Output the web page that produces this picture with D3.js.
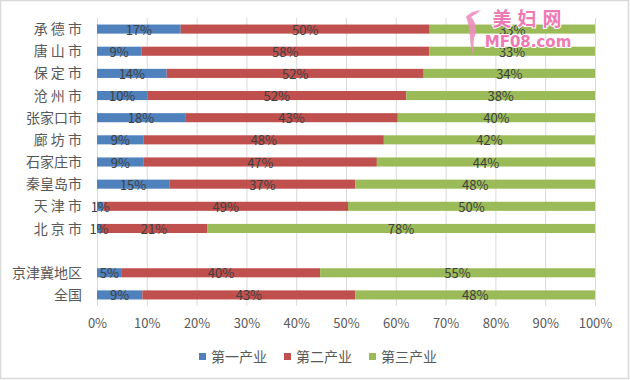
<!DOCTYPE html>
<html><head><meta charset="utf-8">
<script src="https://cdn.jsdelivr.net/npm/d3@7"></script>
<style>
html,body{margin:0;padding:0;background:#fff;}
svg{display:block;font-family:"Noto Sans CJK SC","Noto Sans",sans-serif;}
</style></head>
<body>
<svg id="c" width="630" height="380"></svg>
<script>
const categories = ["承 德 市","唐 山 市","保 定 市","沧 州 市","张家口市","廊 坊 市","石家庄市","秦皇岛市","天 津 市","北 京 市","","京津冀地区","全国"];
const primary   = [16.8, 8.9, 14.0, 10.1, 17.7, 9.4, 9.4, 14.5, 1.3, 0.8, null, 5.0, 9.1];
const secondary = [50.0, 57.8, 51.6, 52.0, 42.7, 48.2, 46.8, 37.4, 49.1, 21.3, null, 39.8, 42.8];
const tertiary  = [33.2, 33.3, 34.4, 37.9, 39.6, 42.4, 43.8, 48.1, 49.6, 77.9, null, 55.2, 48.1];
const seriesNames = ["第一产业","第二产业","第三产业"];
const colors = ["#4f81bd","#c0504d","#9bbb59"];
const ticks = [0,10,20,30,40,50,60,70,80,90,100];

const svg = d3.select("#c");
// chart border
svg.append("rect").attr("x",0.5).attr("y",0.5).attr("width",628).attr("height",378)
  .attr("fill","#fff").attr("stroke","#d9d9d9").attr("stroke-width",1.5);

const pL = 97, pR = 595, pT = 18, pB = 306;
const x = d3.scaleLinear().domain([0,100]).range([pL,pR]);
const y = d3.scaleBand().domain(categories).range([pT,pB]).paddingInner(0.59).paddingOuter(0.295);

// gridlines
svg.append("g").selectAll("line").data(ticks).join("line")
  .attr("x1",d=>x(d)+0.5).attr("x2",d=>x(d)+0.5).attr("y1",pT).attr("y2",pB)
  .attr("stroke","#d9d9d9").attr("stroke-width",1);

// x axis labels
const xAxis = d3.axisBottom(x).tickValues(ticks).tickFormat(d=>d+"%").tickSize(0).tickPadding(0);
const gx = svg.append("g").attr("transform",`translate(0,${pB+13})`).call(xAxis);
gx.select(".domain").remove();
gx.selectAll("text").attr("fill","#595959").attr("font-size","13px")
  .attr("font-family",'"Noto Sans CJK SC","Noto Sans",sans-serif');

// y axis labels
const yAxis = d3.axisLeft(y).tickSize(0).tickPadding(0);
const gy = svg.append("g").attr("transform",`translate(82,0)`).call(yAxis);
gy.select(".domain").remove();
gy.selectAll("text").attr("fill","#595959").attr("font-size","14px")
  .attr("font-family",'"Noto Sans CJK SC","Noto Sans",sans-serif').attr("dy","0.36em");

// stacked data
const rows = categories.map((c,i)=>({cat:c, s0:primary[i], s1:secondary[i], s2:tertiary[i]}))
  .filter(r=>r.s0!==null);
const stack = d3.stack().keys(["s0","s1","s2"]);
const layers = stack(rows);

const bh = y.bandwidth();
layers.forEach((layer,li)=>{
  const g = svg.append("g");
  g.selectAll("rect").data(layer).join("rect")
    .attr("x",d=>x(d[0])).attr("width",d=>x(d[1])-x(d[0]))
    .attr("y",d=>y(d.data.cat)).attr("height",bh)
    .attr("fill",colors[li]);
});
layers.forEach((layer,li)=>{
  const g = svg.append("g");
  g.selectAll("text").data(layer).join("text")
    .attr("x",d=>(x(d[0])+x(d[1]))/2)
    .attr("y",d=>y(d.data.cat)+bh/2+1)
    .attr("dy","0.35em")
    .attr("text-anchor","middle").attr("font-size","13px").attr("fill","#404040")
    .text(d=>Math.round(d[1]-d[0])+"%");
});

// legend
const legX = [199, 284, 369];
const leg = svg.append("g");
seriesNames.forEach((n,i)=>{
  leg.append("rect").attr("x",legX[i]).attr("y",353).attr("width",7).attr("height",7).attr("fill",colors[i]);
  leg.append("text").attr("x",legX[i]+12).attr("y",356.5).attr("dy","0.36em")
    .attr("font-size","14px").attr("fill","#595959").text(n);
});

// watermark
const wm = svg.append("g");
wm.append("path").attr("d","M466,17 C470,12 476,11 481,10 C478,13 474,15 471,17 C476,22 478,30 474,38 C473,44 474,50 473,55 C471,48 470,42 470,36 C469,30 469,24 466,17 Z")
  .attr("fill","#ec8fbd").attr("opacity",0.9);
wm.append("text").attr("x",530).attr("y",26).attr("text-anchor","middle")
  .attr("font-size","19px").attr("font-weight","bold").attr("fill","#ee79b3")
  .attr("stroke","#fff").attr("stroke-width",2).attr("paint-order","stroke")
  .attr("letter-spacing","6px").text("美妇网");
wm.append("text").attr("x",528).attr("y",47).attr("text-anchor","middle")
  .attr("font-size","15px").attr("font-weight","bold").attr("font-family","DejaVu Sans")
  .attr("fill","#ee79b3").attr("stroke","#fff").attr("stroke-width",2).attr("paint-order","stroke")
  .text("MF08.com");
</script>
</body></html>
